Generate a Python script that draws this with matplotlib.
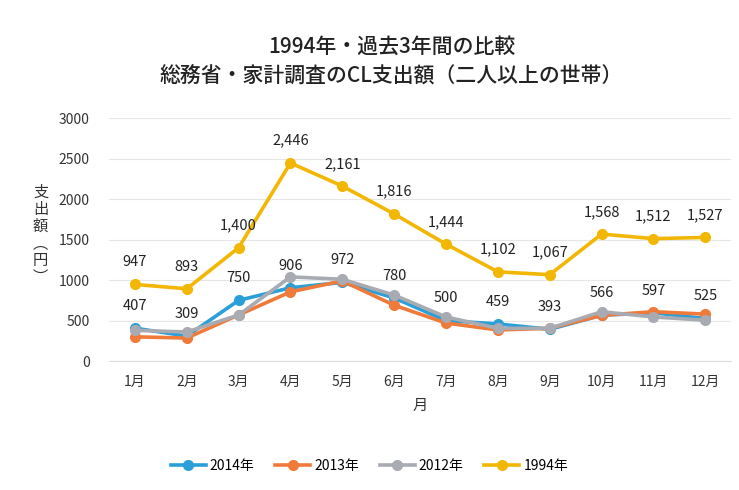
import matplotlib
matplotlib.use("Agg")
import matplotlib.pyplot as plt

plt.rcParams['font.family'] = ['Noto Sans CJK JP', 'DejaVu Sans']

months = ["1月", "2月", "3月", "4月", "5月", "6月", "7月", "8月", "9月", "10月", "11月", "12月"]
y2014 = [407, 309, 750, 906, 972, 780, 500, 459, 393, 566, 597, 525]
y2013 = [300, 285, 570, 855, 990, 690, 470, 385, 405, 565, 610, 580]
y2012 = [380, 360, 570, 1040, 1010, 815, 545, 405, 405, 610, 545, 505]
y1994 = [947, 893, 1400, 2446, 2161, 1816, 1444, 1102, 1067, 1568, 1512, 1527]

series = [
    ("2014年", y2014, "#2a9fd8"),
    ("2013年", y2013, "#ef7a3a"),
    ("2012年", y2012, "#a9abb3"),
    ("1994年", y1994, "#f2b705"),
]

fig = plt.figure(figsize=(7.39, 4.9), dpi=100)
ax = fig.add_axes([0.1475, 0.263, 0.842, 0.496])

x = list(range(len(months)))
for name, vals, col in series:
    ax.plot(x, vals, color=col, lw=2.6, marker="o", ms=7, label=name)

# data labels (1994 and 2014)
for vals in (y1994, y2014):
    for xi, v in zip(x, vals):
        ax.annotate(f"{v:,}", (xi, v), xytext=(0, 16), textcoords="offset points",
                    ha="center", va="center", fontsize=10.5, color="#222222")

ax.set_xlim(-0.5, len(months) - 0.5)
ax.set_ylim(0, 3000)
ax.set_yticks(range(0, 3001, 500))
ax.set_xticks(x)
ax.set_xticklabels(months)
ax.tick_params(axis="both", length=0, labelsize=10, colors="#333333")
ax.tick_params(axis="y", pad=14)
ax.tick_params(axis="x", pad=10)
ax.grid(axis="y", color="#e6e6e6", lw=0.8)
ax.set_axisbelow(True)
for s in ["top", "right", "left"]:
    ax.spines[s].set_visible(False)
ax.spines["bottom"].set_color("#dcdcdc")

ax.set_xlabel("月", fontsize=11, color="#333333", labelpad=6)
fig.text(0.055, 0.52, "支\n出\n額\n︵\n円\n︶", ha="center", va="center",
         fontsize=11, color="#333333", linespacing=1.0)

fig.text(0.53, 0.905, "1994年・過去3年間の比較", ha="center", va="center",
         fontsize=15, fontweight="medium", color="#222222")
fig.text(0.53, 0.845, "総務省・家計調査のCL支出額（二人以上の世帯）", ha="center", va="center",
         fontsize=15, fontweight="medium", color="#222222")

fig.legend(loc="center", bbox_to_anchor=(0.5, 0.05), ncol=4, frameon=False,
           fontsize=10, handlelength=2.5, columnspacing=1.5, handletextpad=0.3)

fig.savefig("out.png", dpi=100, facecolor="white")
